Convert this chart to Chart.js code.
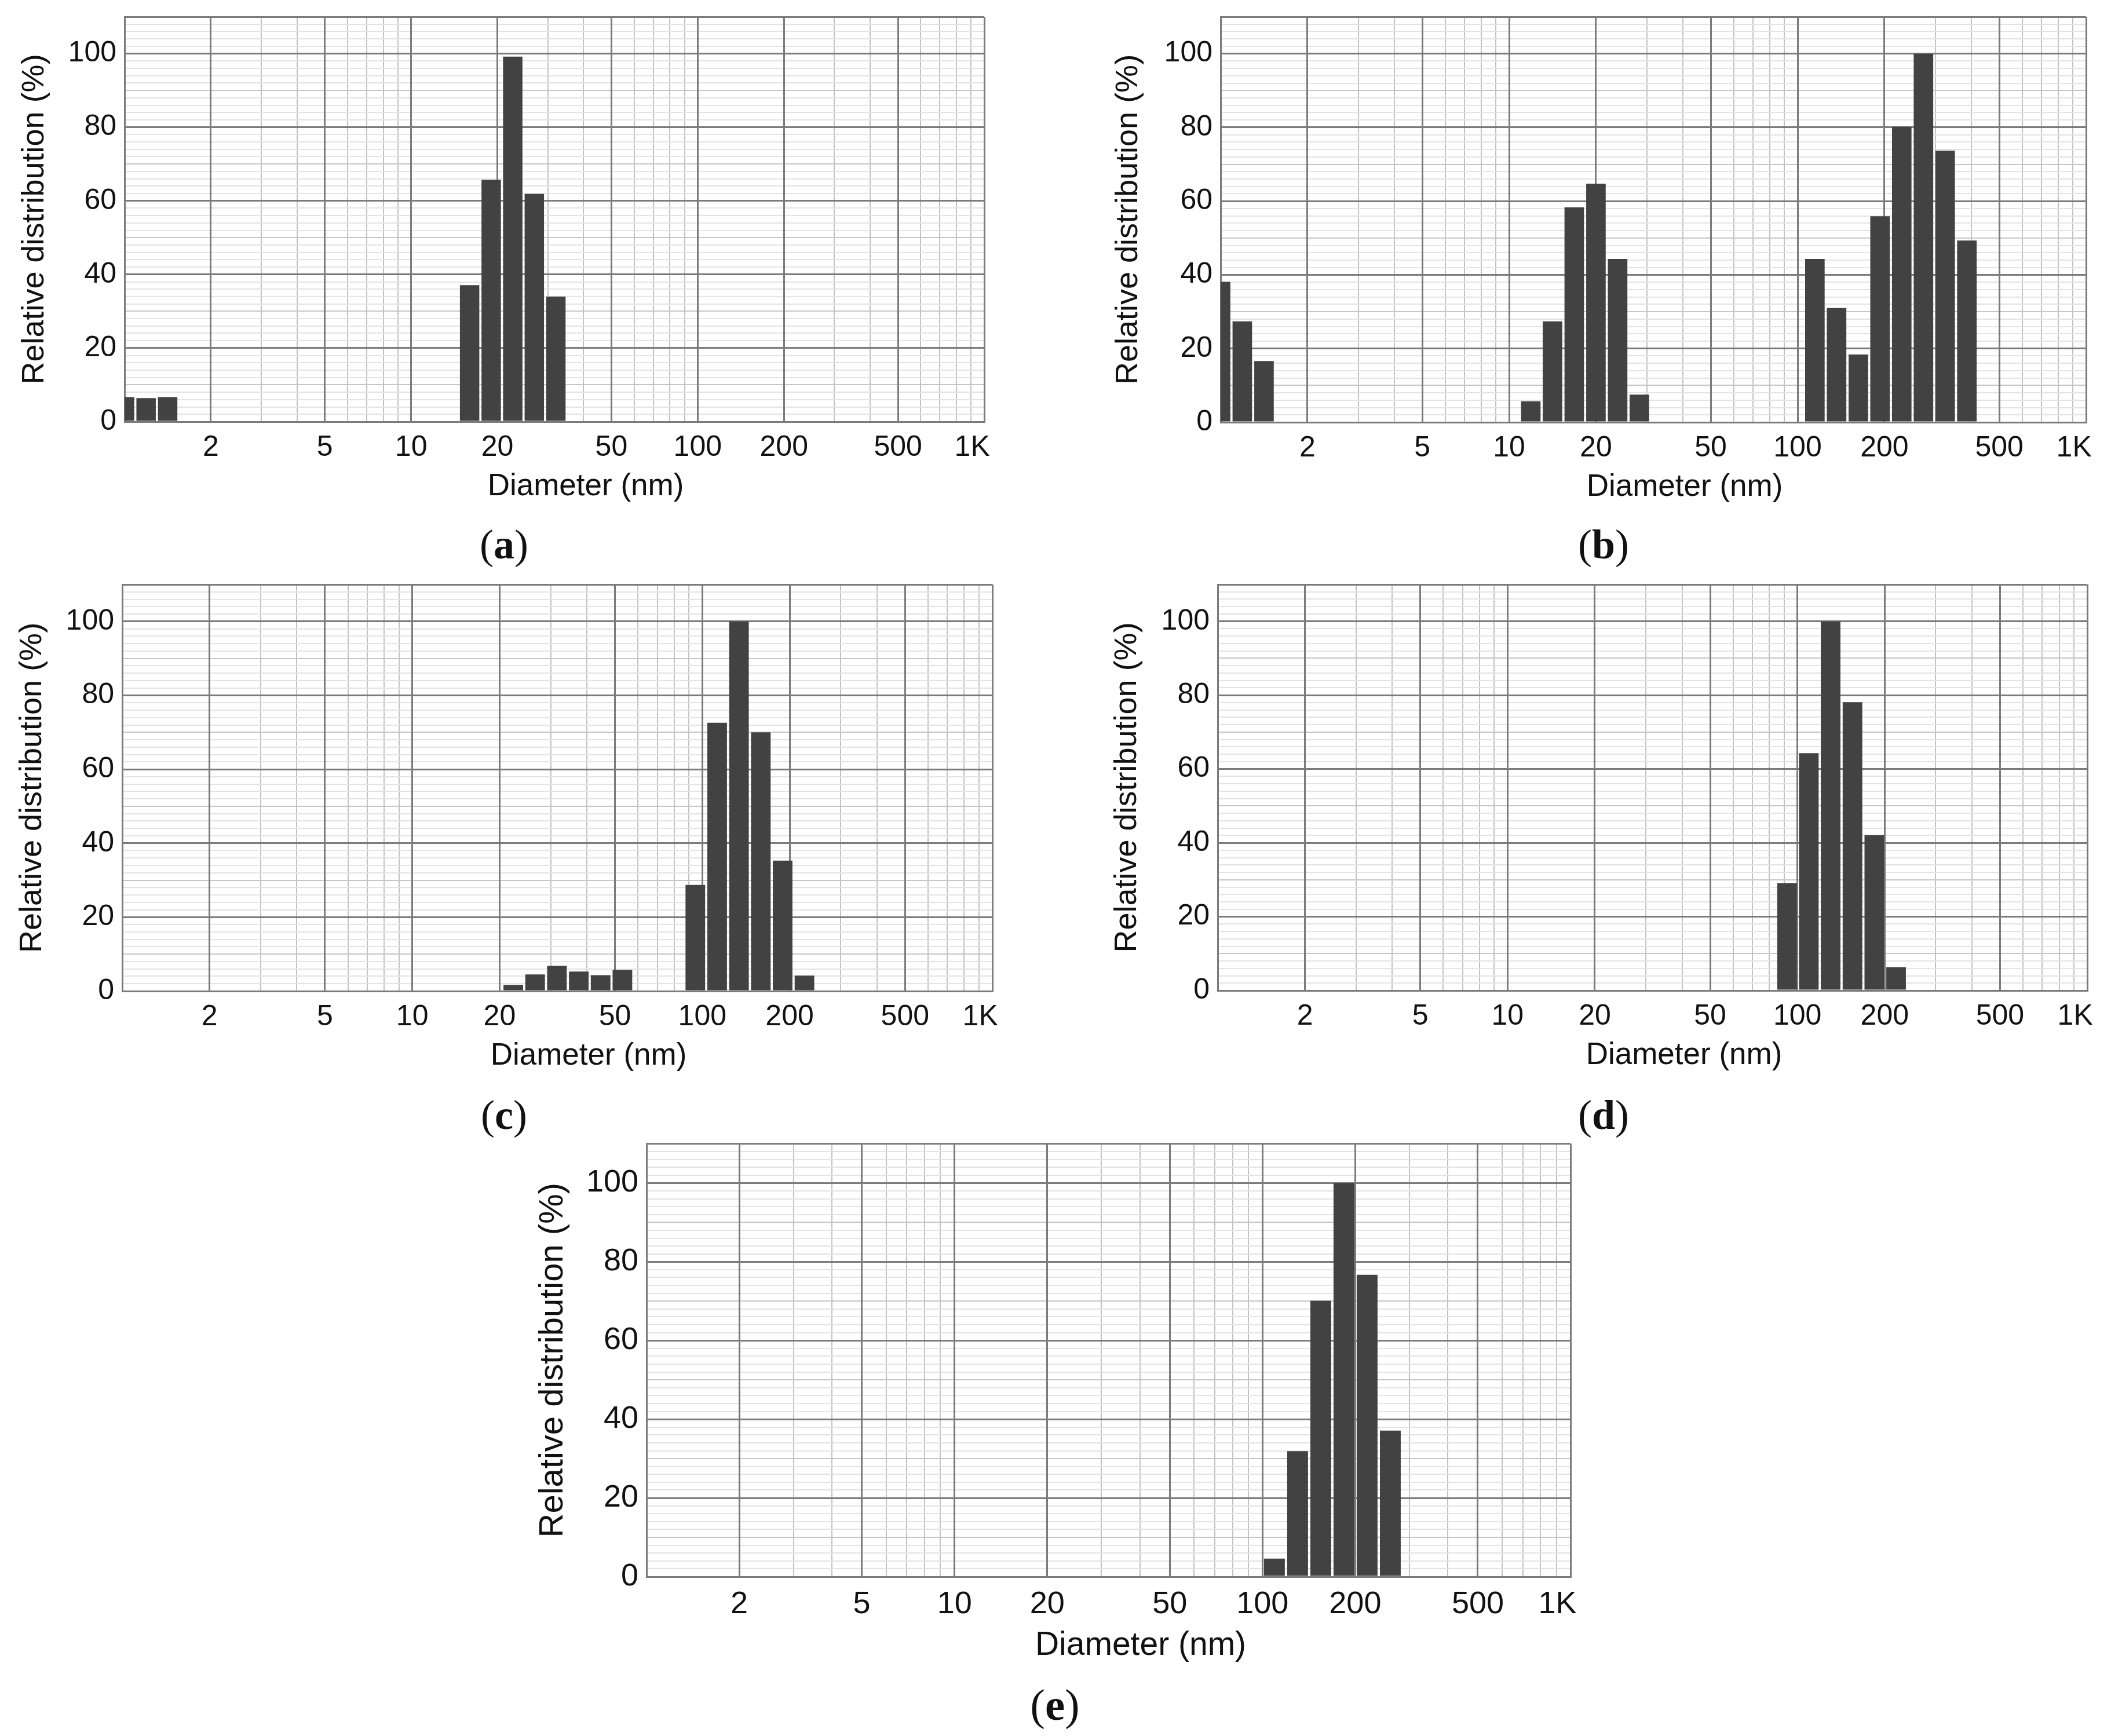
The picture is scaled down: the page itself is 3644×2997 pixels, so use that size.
<!DOCTYPE html>
<html>
<head>
<meta charset="utf-8">
<script src="https://cdn.jsdelivr.net/npm/chart.js@4.4.1/dist/chart.umd.min.js"></script>
<style>
  body { margin: 0; background: #fff; }
  #page { position: relative; width: 3644px; height: 2997px; background: #fff; overflow: hidden; }
  canvas { position: absolute; }
  .xtitle { position: absolute; transform: translate(-50%, -50%); font-family: 'Liberation Sans', Arial, sans-serif; color: #111; white-space: nowrap; line-height: 1; }
  .tag { position: absolute; transform: translate(-50%, -50%); font-family: 'Liberation Serif', 'Times New Roman', serif; color: #111; white-space: nowrap; line-height: 1; }
</style>
</head>
<body>
<div id="page"></div>
<script>
// bin centres (nm) and relative distribution (%) of each histogram
let sizeA = [1.00, 1.189, 1.414, 16.0, 19.03, 22.63, 26.91, 32.0];
let distA = [6.7, 6.4, 6.7, 37.1, 65.7, 99.2, 61.9, 34.0];

let sizeB = [1.00, 1.189, 1.414, 11.89, 14.14, 16.82, 20.0, 23.78, 28.28, 114.8, 136.5, 162.4, 193.1, 229.6, 273.1, 324.7, 386.2];
let distB = [38.1, 27.4, 16.6, 5.7, 27.4, 58.3, 64.7, 44.3, 7.5, 44.3, 31.0, 18.4, 55.9, 80.2, 100, 73.7, 49.3];

let sizeC = [22.3, 26.52, 31.53, 37.5, 44.6, 53.03, 94.6, 112.5, 133.8, 159.1, 189.2, 225.0];
let distC = [1.7, 4.5, 6.8, 5.3, 4.3, 5.7, 28.7, 72.6, 100, 70.0, 35.3, 4.2];

let sizeD = [92.1, 109.5, 130.2, 154.9, 184.2, 219.0];
let distD = [29.1, 64.3, 100, 78.1, 42.1, 6.3];

let sizeE = [109.3, 130.0, 154.6, 183.8, 218.6, 260.0];
let distE = [4.6, 31.9, 70.1, 100, 76.7, 37.1];

// axis ticks
let xMajorTicks = [2, 5, 10, 20, 50, 100, 200, 500, 1000];
let xMinorTicks = [3, 4, 6, 7, 8, 9, 30, 40, 60, 70, 80, 90, 300, 400, 600, 700, 800, 900];
let yMin = 0, yMax = 110, yStep = 2;

// plot boxes on the page
let panels = [
  {tag: 'a', size: sizeA, dist: distA, L: 215,  T: 25,   R: 1699, B: 728,  s: 1,    yt: 155, xt: [1011, 836],  tp: [870, 940]},
  {tag: 'b', size: sizeB, dist: distB, L: 2107, T: 25,   R: 3601, B: 729,  s: 1,    yt: 159, xt: [2908, 837],  tp: [2768, 940]},
  {tag: 'c', size: sizeC, dist: distC, L: 211,  T: 1005, R: 1713, B: 1711, s: 1,    yt: 155, xt: [1016, 1819], tp: [870, 1925]},
  {tag: 'd', size: sizeD, dist: distD, L: 2102, T: 1005, R: 3603, B: 1710, s: 1,    yt: 156, xt: [2907, 1818], tp: [2768, 1925]},
  {tag: 'e', size: sizeE, dist: distE, L: 1116, T: 1968, R: 2711, B: 2722, s: 1.07, yt: 161, xt: [1969, 2837], tp: [1821, 2943]}
];

let dark = '#7b7b7b';
let page = document.getElementById('page');

Chart.defaults.font.family = "'Liberation Sans', Arial, Helvetica, sans-serif";
Chart.defaults.color = '#111';

function yGridColor(v) {
  if (v % 20 === 0 || v === yMax) return dark;
  if (v % 10 === 0) return '#c6c6c6';
  return '#e3e3e3';
}

// the 1K label sits left of the last gridline, trailing spaces push it over
function xLabel(v) {
  return v === 1000 ? '1K   ' : String(v);
}

function makePanel(p) {
  let padL = Math.round(200 * p.s);
  let padT = 40, padR = 110;
  let padB = Math.round(80 * p.s);
  let w = p.R - p.L + padL + padR;
  let h = p.B - p.T + padT + padB;

  let cv = document.createElement('canvas');
  cv.width = w;
  cv.height = h;
  cv.style.left = (p.L - padL) + 'px';
  cv.style.top = (p.T - padT) + 'px';
  cv.style.width = w + 'px';
  cv.style.height = h + 'px';
  page.appendChild(cv);

  let tickSize = Math.round(50 * p.s);
  let titleSize = Math.round(54 * p.s);
  let titlePad = padL - p.yt - titleSize * 0.6;

  new Chart(cv, {
    type: 'bar',
    data: {
      datasets: [{
        data: p.size.map((d, i) => ({x: d, y: p.dist[i]})),
        backgroundColor: '#424242',
        borderWidth: 0,
        barPercentage: 0.9,
        categoryPercentage: 1,
        clip: 0
      }]
    },
    options: {
      responsive: false,
      devicePixelRatio: 1,
      animation: false,
      events: [],
      layout: {padding: {top: padT, right: padR, bottom: 0, left: 0}},
      plugins: {legend: {display: false}, tooltip: {enabled: false}},
      scales: {
        x: {
          type: 'logarithmic',
          position: 'bottom',
          min: 1,
          max: 1000,
          offset: false,
          afterBuildTicks: sc => { sc.ticks = xMajorTicks.map(v => ({value: v})); },
          afterFit: sc => { sc.height = padB; },
          ticks: {
            autoSkip: false, maxRotation: 0, minRotation: 0,
            padding: Math.round(15 * p.s),
            font: {size: tickSize},
            color: '#111',
            callback: xLabel
          },
          grid: {offset: false, drawTicks: false, color: dark, lineWidth: 3, z: -1},
          border: {display: true, color: dark, width: 3}
        },
        xMinor: {
          type: 'logarithmic',
          position: 'bottom',
          min: 1,
          max: 1000,
          offset: false,
          afterBuildTicks: sc => { sc.ticks = xMinorTicks.map(v => ({value: v})); },
          afterFit: sc => { sc.height = 0; },
          ticks: {display: false},
          grid: {offset: false, drawTicks: false, color: '#c2c2c2', lineWidth: 2, z: -3},
          border: {display: false}
        },
        y: {
          type: 'linear',
          min: yMin,
          max: yMax,
          afterFit: sc => { sc.width = padL; },
          ticks: {
            stepSize: yStep, autoSkip: false,
            padding: 14,
            font: {size: tickSize},
            color: '#111',
            callback: v => v % 20 === 0 ? String(v) : ''
          },
          grid: {
            drawTicks: false,
            color: c => yGridColor(c.tick.value),
            lineWidth: c => (c.tick.value % 20 === 0 || c.tick.value === yMax) ? 3 : 2,
            z: -2
          },
          border: {display: true, color: dark, width: 3},
          title: {
            display: true,
            text: 'Relative distribution (%)',
            color: '#111',
            font: {size: titleSize},
            padding: {top: titlePad, bottom: 0}
          }
        }
      }
    }
  });

  let xt = document.createElement('div');
  xt.className = 'xtitle';
  xt.style.left = p.xt[0] + 'px';
  xt.style.top = p.xt[1] + 'px';
  xt.style.fontSize = Math.round(53 * p.s) + 'px';
  xt.innerText = 'Diameter (nm)';
  page.appendChild(xt);

  let tg = document.createElement('div');
  tg.className = 'tag';
  tg.style.left = p.tp[0] + 'px';
  tg.style.top = p.tp[1] + 'px';
  tg.style.fontSize = Math.round(72 * p.s) + 'px';
  tg.innerHTML = '(<b>' + p.tag + '</b>)';
  page.appendChild(tg);
}

panels.forEach(makePanel);
</script>
</body>
</html>
